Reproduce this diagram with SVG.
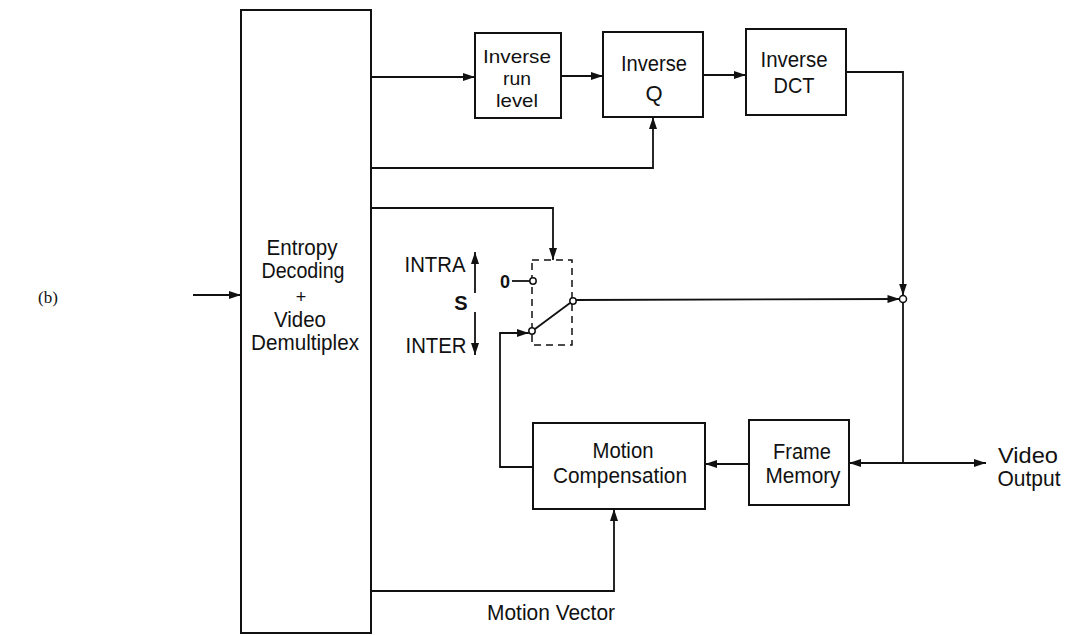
<svg xmlns="http://www.w3.org/2000/svg" width="1066" height="636" viewBox="0 0 1066 636">
<style>
.box{fill:#fff;stroke:#111;stroke-width:2}
.ln{fill:none;stroke:#111;stroke-width:1.8}
.t{font-family:"Liberation Sans",Arial,sans-serif;font-size:22px;fill:#111;text-anchor:middle}
.s{font-size:19px}
.dot{fill:#fff;stroke:#111;stroke-width:1.5}
</style>
<defs>
<marker id="ah" markerWidth="12" markerHeight="8" refX="12" refY="4" orient="auto" markerUnits="userSpaceOnUse">
<path d="M0,0 L12,4 L0,8 z" fill="#111"/>
</marker>
</defs>
<rect width="1066" height="636" fill="#fff"/>
<text x="38" y="303" style="font-family:'Liberation Serif',serif;font-size:17px;fill:#111">(b)</text>

<g id="entropy">
<rect class="box" x="241" y="10" width="130" height="623"/>
<text class="t" x="302" y="255" textLength="71" lengthAdjust="spacingAndGlyphs">Entropy</text>
<text class="t" x="303" y="278" textLength="83" lengthAdjust="spacingAndGlyphs">Decoding</text>
<text class="t" x="301" y="303" style="font-size:18px">+</text>
<text class="t" x="300" y="327" textLength="52" lengthAdjust="spacingAndGlyphs">Video</text>
<text class="t" x="305" y="350" textLength="108" lengthAdjust="spacingAndGlyphs">Demultiplex</text>
</g>

<g id="inv-run-level">
<rect class="box" x="475" y="33" width="86" height="85"/>
<text class="t s" x="517" y="63" textLength="68" lengthAdjust="spacingAndGlyphs">Inverse</text>
<text class="t s" x="517" y="85" textLength="28" lengthAdjust="spacingAndGlyphs">run</text>
<text class="t s" x="517" y="107" textLength="42" lengthAdjust="spacingAndGlyphs">level</text>
</g>

<g id="inv-q">
<rect class="box" x="603" y="32" width="100" height="85"/>
<text class="t" x="654" y="71" textLength="66" lengthAdjust="spacingAndGlyphs">Inverse</text>
<text class="t" x="654" y="101">Q</text>
</g>

<g id="inv-dct">
<rect class="box" x="746" y="29" width="100" height="86"/>
<text class="t" x="794" y="67" textLength="67" lengthAdjust="spacingAndGlyphs">Inverse</text>
<text class="t" x="794" y="93" textLength="41" lengthAdjust="spacingAndGlyphs">DCT</text>
</g>

<g id="motion-comp">
<rect class="box" x="533" y="423" width="172" height="86"/>
<text class="t" x="623" y="458" textLength="61" lengthAdjust="spacingAndGlyphs">Motion</text>
<text class="t" x="620" y="483" textLength="134" lengthAdjust="spacingAndGlyphs">Compensation</text>
</g>

<g id="frame-memory">
<rect class="box" x="749" y="420" width="100" height="85"/>
<text class="t" x="802" y="459" textLength="58" lengthAdjust="spacingAndGlyphs">Frame</text>
<text class="t" x="803" y="483" textLength="75" lengthAdjust="spacingAndGlyphs">Memory</text>
</g>

<g id="switch">
<rect x="532" y="260" width="40" height="85" fill="none" stroke="#111" stroke-width="1.5" stroke-dasharray="7,5"/>
<text class="t" x="505" y="288" style="font-weight:bold;font-size:18px">0</text>
<line class="ln" x1="512" y1="281" x2="530" y2="281"/>
<line class="ln" x1="535" y1="329" x2="570" y2="303"/>
<circle class="dot" cx="533" cy="281" r="3.2"/>
<circle class="dot" cx="532" cy="331" r="3.2"/>
<circle class="dot" cx="573" cy="301" r="3.2"/>
<text class="t" x="435" y="272" textLength="61" lengthAdjust="spacingAndGlyphs">INTRA</text>
<text class="t" x="461" y="310" style="font-weight:bold;font-size:20px">S</text>
<text class="t" x="436" y="353" textLength="61" lengthAdjust="spacingAndGlyphs">INTER</text>
<line class="ln" x1="475" y1="293" x2="475" y2="252" marker-end="url(#ah)"/>
<line class="ln" x1="475" y1="312" x2="475" y2="355" marker-end="url(#ah)"/>
</g>

<g id="labels">
<text class="t" x="551" y="620" textLength="128" lengthAdjust="spacingAndGlyphs">Motion Vector</text>
<text class="t" x="1028" y="463" textLength="60" lengthAdjust="spacingAndGlyphs">Video</text>
<text class="t" x="1029" y="486" textLength="63" lengthAdjust="spacingAndGlyphs">Output</text>
</g>

<g id="connectors">
<line class="ln" x1="193" y1="295" x2="241" y2="295" marker-end="url(#ah)"/>
<line class="ln" x1="371" y1="77" x2="475" y2="77" marker-end="url(#ah)"/>
<line class="ln" x1="561" y1="76" x2="603" y2="76" marker-end="url(#ah)"/>
<line class="ln" x1="703" y1="75" x2="746" y2="75" marker-end="url(#ah)"/>
<polyline class="ln" points="371,168 653,168 653,117" marker-end="url(#ah)"/>
<polyline class="ln" points="846,72 903,72 903,295.5" marker-end="url(#ah)"/>
<polyline class="ln" points="371,208 553,208 553,260" marker-end="url(#ah)"/>
<line class="ln" x1="576" y1="300" x2="899.5" y2="299" marker-end="url(#ah)"/>
<line class="ln" x1="903" y1="302.5" x2="903" y2="463"/>
<line class="ln" x1="903" y1="463" x2="986" y2="463" marker-end="url(#ah)"/>
<line class="ln" x1="903" y1="463" x2="849" y2="463" marker-end="url(#ah)"/>
<line class="ln" x1="749" y1="464" x2="705" y2="464" marker-end="url(#ah)"/>
<polyline class="ln" points="533,467 500,467 500,333 528.8,333" marker-end="url(#ah)"/>
<polyline class="ln" points="371,591 614,591 614,509" marker-end="url(#ah)"/>
<circle class="dot" cx="903" cy="299" r="3.5"/>
</g>
</svg>
